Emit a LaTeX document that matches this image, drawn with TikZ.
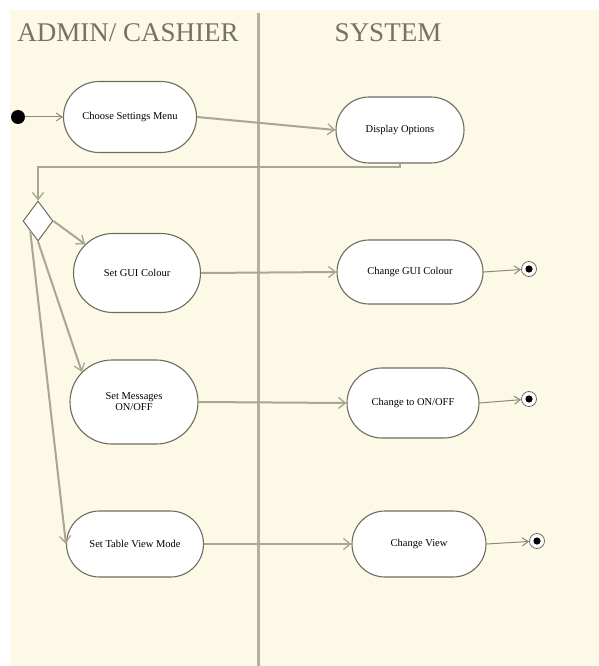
\documentclass[tikz,border=0pt]{standalone}
\usepackage{fontspec}
\setmainfont{Liberation Serif}
\usetikzlibrary{shapes.misc,shapes.geometric,arrows.meta}
\definecolor{lanebg}{HTML}{FDF9E7}
\definecolor{laneline}{HTML}{B3B09F}
\definecolor{flow}{HTML}{A9A696}
\definecolor{edge}{HTML}{6F6C60}
\definecolor{titlegray}{HTML}{75726A}
\tikzset{
  activity/.style={rounded rectangle, rounded rectangle arc length=180, draw=edge,
    line width=1.1pt, fill=white, inner sep=0pt, align=center,
    font=\fontsize{10.5}{11}\selectfont},
  flowline/.style={draw=flow, line width=2pt,
    -{Straight Barb[length=7pt,width=11pt,line width=1.3pt]}},
  thinflow/.style={draw=edge!80, line width=1pt,
    -{Straight Barb[length=6pt,width=8pt,line width=1pt]}},
  lanetitle/.style={text=titlegray, font=\fontsize{27}{29}\selectfont},
  choice/.style={diamond, draw=edge, line width=1pt, fill=white, aspect=0.75,
    minimum width=30pt, minimum height=40pt, inner sep=0pt},
  startdot/.style={circle, fill=black, minimum size=14pt, inner sep=0pt},
  enddot/.style={circle, draw=edge, line width=0.8pt, fill=white, minimum size=15pt, inner sep=0pt,
    path picture={\fill[black] (path picture bounding box.center) circle (3.6pt);}},
}
\begin{document}
\begin{tikzpicture}[x=1pt,y=-1pt]
  \useasboundingbox (0,0) rectangle (599,666);
  % swimlane background and divider
  \fill[lanebg] (10,10) rectangle (599,666);
  \draw[laneline, line width=3pt] (258,13) -- (258,666);
  \node[lanetitle] (t1) at (128,33) {ADMIN/ CASHIER};
  \node[lanetitle] (t2) at (388,33) {SYSTEM};

  % activities
  \node[startdot] (init) at (18,117) {};
  \node[activity, minimum width=133pt, minimum height=71pt] (choose) at (130,117) {Choose Settings Menu};
  \node[activity, minimum width=128pt, minimum height=66pt] (disp) at (400,130) {Display Options};
  \node[choice] (dia) at (38,221) {};
  \node[activity, minimum width=127pt, minimum height=79pt] (gui) at (137,273) {Set GUI Colour};
  \node[activity, minimum width=128pt, minimum height=84pt] (msg) at (134,402) {Set Messages\\ON/OFF};
  \node[activity, minimum width=137pt, minimum height=66pt] (table) at (135,544) {Set Table View Mode};
  \node[activity, minimum width=146pt, minimum height=64pt] (cgui) at (410,272) {Change GUI Colour};
  \node[activity, minimum width=132pt, minimum height=70pt] (conoff) at (413,403) {Change to ON/OFF};
  \node[activity, minimum width=134pt, minimum height=66pt] (cview) at (419,544) {Change View};
  \node[enddot] (end1) at (529,269) {};
  \node[enddot] (end2) at (529,399) {};
  \node[enddot] (end3) at (537,541) {};

  % control flow
  \draw[thinflow] (init) -- (choose.west);
  \draw[flowline] (choose.east) -- (disp.west);
  \draw[flowline] (disp.south) -- ++(0,3) -| (dia.north);
  \draw[flowline] (dia.east) -- (gui.151);
  \draw[flowline] (dia.south) -- (msg.150);
  \draw[flowline] (dia.south west) -- (table.west);
  \draw[flowline] (gui.east) -- (cgui.west);
  \draw[flowline] (msg.east) -- (conoff.west);
  \draw[flowline] (table.east) -- (cview.west);
  \draw[thinflow] (cgui.east) -- (end1);
  \draw[thinflow] (conoff.east) -- (end2);
  \draw[thinflow] (cview.east) -- (end3);
\end{tikzpicture}
\end{document}
